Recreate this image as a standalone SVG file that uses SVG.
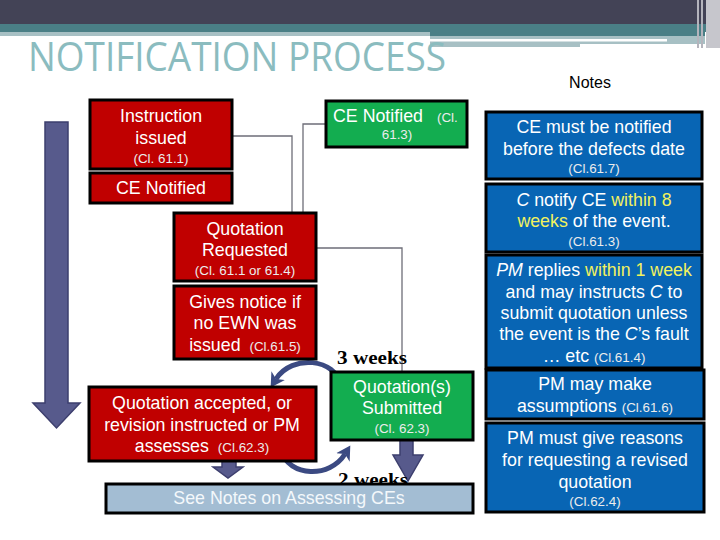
<svg xmlns="http://www.w3.org/2000/svg" width="720" height="540" viewBox="0 0 720 540">
<style>
.t{font-family:"Liberation Sans",Arial,sans-serif;font-size:17.8px;fill:#fff;text-anchor:middle}
.s{font-size:13.4px;fill:#ececec}
.red{fill:#c00000;stroke:#000;stroke-width:3}
.grn{fill:#13ad50;stroke:#000;stroke-width:3}
.blu{fill:#0865b4;stroke:#000;stroke-width:3}
.y{fill:#f2f25e}
.i{font-style:italic}
.con{fill:none;stroke:#6e6e78;stroke-width:1.3}
.wk{font-family:"Liberation Serif","Times New Roman",serif;font-weight:bold;font-size:19px;fill:#000}
.big{fill:#575a8c;stroke:#3d3f6e;stroke-width:1.5}
.arc{fill:none;stroke:#3b4a82;stroke-width:5}
</style>
<defs>
<marker id="ah" markerUnits="userSpaceOnUse" markerWidth="16" markerHeight="16" refX="4" refY="8" orient="auto">
<path d="M0,0 L14,8 L0,16 L4,8 Z" fill="#3b4a82"/>
</marker>
</defs>
<g id="banner">
<rect x="0" y="0" width="720" height="24" fill="#434356"/>
<rect x="0" y="24" width="720" height="8" fill="#4a7f86"/>
<rect x="0" y="32" width="430" height="4" fill="#a7c0c4"/>
<rect x="430" y="32" width="275" height="4" fill="#4a7f86"/>
<rect x="430" y="36" width="275" height="11" fill="#a7c0c4"/>
<rect x="430" y="39" width="237" height="2.5" fill="#ffffff"/>
<rect x="580" y="44" width="125" height="4" fill="#ffffff"/>
<rect x="697" y="0" width="2" height="48" fill="#b4b4bc"/>
<rect x="701" y="0" width="2" height="48" fill="#b4b4bc"/>
<rect x="706" y="0" width="14" height="48" fill="#c6c6cc"/>
</g>
<text x="28" y="71" font-family="'Open Sans','DejaVu Sans',sans-serif" font-size="40" fill="#8bbcbf" textLength="418" lengthAdjust="spacingAndGlyphs">NOTIFICATION PROCESS</text>
<text x="590" y="88" font-family="'Liberation Sans',Arial,sans-serif" font-size="16" fill="#000" text-anchor="middle">Notes</text>
<g id="timeline">
<path class="big" d="M45,122 H68 V403 H80 L56.5,428 L33,403 H45 Z"/>
</g>
<g id="connectors">
<path class="con" d="M232,136 H292 V213"/>
<path class="con" d="M326,124 H303 V213"/>
<path class="con" d="M316,248 H402 V372"/>
<path class="arc" d="M341,386 C336,358 292,354 276,379" marker-end="url(#ah)"/>
<path class="arc" d="M280,450 C290,478 330,478 345,454" marker-end="url(#ah)"/>
<path class="big" d="M222,461 H236 V467 H243 L228,478 L213,467 H222 Z"/>
<path class="big" d="M400,440 H413 V455 H423 L408,481 L393,455 H400 Z"/>
</g>
<g id="instruction">
<rect class="red" x="90" y="100" width="142" height="69"/>
<text class="t" x="161" y="122">Instruction</text>
<text class="t" x="161" y="144">issued</text>
<text class="t s" x="161" y="163">(Cl. 61.1)</text>
</g>
<g id="ce-notified-left">
<rect class="red" x="90" y="173" width="142" height="30"/>
<text class="t" x="161" y="194">CE Notified</text>
</g>
<g id="ce-notified-right">
<rect class="grn" x="326" y="101" width="141" height="46"/>
<text class="t" x="333" y="122" style="text-anchor:start">CE Notified<tspan class="s" dx="14">(Cl.</tspan></text>
<text class="t s" x="397" y="139">61.3)</text>
</g>
<g id="quotation-requested">
<rect class="red" x="174" y="213" width="142" height="68"/>
<text class="t" x="245" y="235">Quotation</text>
<text class="t" x="245" y="256">Requested</text>
<text class="t s" x="245" y="275">(Cl. 61.1 or 61.4)</text>
</g>
<g id="gives-notice">
<rect class="red" x="174" y="286" width="142" height="73"/>
<text class="t" x="245" y="308">Gives notice if</text>
<text class="t" x="245" y="329">no EWN was</text>
<text class="t" x="245" y="351">issued <tspan class="s" dx="4">(Cl.61.5)</tspan></text>
</g>
<text class="wk" x="337" y="364" textLength="70" lengthAdjust="spacingAndGlyphs">3 weeks</text>
<g id="quotation-accepted">
<rect class="red" x="89" y="387" width="227" height="74"/>
<text class="t" x="202" y="409">Quotation accepted, or</text>
<text class="t" x="202" y="431">revision instructed or PM</text>
<text class="t" x="202" y="452">assesses <tspan class="s" dx="4">(Cl.62.3)</tspan></text>
</g>
<g id="quotation-submitted">
<rect class="grn" x="331" y="372" width="142" height="68"/>
<text class="t" x="402" y="393">Quotation(s)</text>
<text class="t" x="402" y="414">Submitted</text>
<text class="t s" x="402" y="433">(Cl. 62.3)</text>
</g>
<text class="wk" x="338" y="486" textLength="70" lengthAdjust="spacingAndGlyphs">2 weeks</text>
<g id="see-notes">
<rect x="106" y="484" width="367" height="29" fill="#a3bdd3" stroke="#000" stroke-width="3"/>
<text class="t" x="289" y="504" style="fill:#f4f8fb">See Notes on Assessing CEs</text>
</g>
<g id="note1">
<rect class="blu" x="486" y="112" width="216" height="67"/>
<text class="t" x="594" y="133">CE must be notified</text>
<text class="t" x="594" y="155">before the defects date</text>
<text class="t s" x="594" y="173">(Cl.61.7)</text>
</g>
<g id="note2">
<rect class="blu" x="486" y="184" width="216" height="68"/>
<text class="t" x="594" y="206"><tspan class="i">C</tspan> notify CE <tspan class="y">within 8</tspan></text>
<text class="t" x="594" y="227"><tspan class="y">weeks</tspan> of the event.</text>
<text class="t s" x="594" y="246">(Cl.61.3)</text>
</g>
<g id="note3">
<rect class="blu" x="486" y="255" width="216" height="113"/>
<text class="t" x="594" y="276"><tspan class="i">PM</tspan> replies <tspan class="y">within 1 week</tspan></text>
<text class="t" x="594" y="298">and may instructs <tspan class="i">C</tspan> to</text>
<text class="t" x="594" y="319">submit quotation unless</text>
<text class="t" x="594" y="340">the event is the <tspan class="i">C</tspan>’s fault</text>
<text class="t" x="594" y="362">… etc <tspan class="s">(Cl.61.4)</tspan></text>
</g>
<g id="note4">
<rect class="blu" x="486" y="370" width="218" height="49"/>
<text class="t" x="595" y="390">PM may make</text>
<text class="t" x="595" y="412">assumptions <tspan class="s">(Cl.61.6)</tspan></text>
</g>
<g id="note5">
<rect class="blu" x="486" y="423" width="218" height="89"/>
<text class="t" x="595" y="444">PM must give reasons</text>
<text class="t" x="595" y="466">for requesting a revised</text>
<text class="t" x="595" y="488">quotation</text>
<text class="t s" x="595" y="506">(Cl.62.4)</text>
</g>
</svg>
